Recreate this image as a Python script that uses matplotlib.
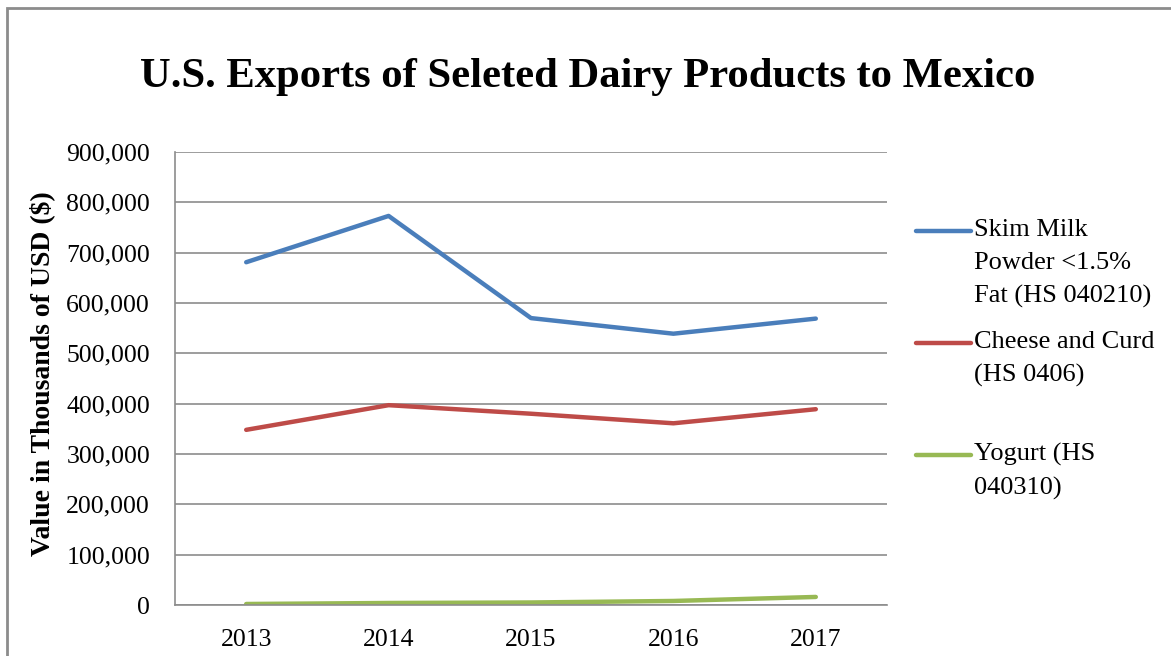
import matplotlib.pyplot as plt
from matplotlib.lines import Line2D
from matplotlib.patches import Rectangle
from matplotlib.ticker import FuncFormatter

plt.rcParams['font.family'] = ['Liberation Serif', 'DejaVu Serif']

years = ['2013', '2014', '2015', '2016', '2017']
skim_milk = [681000, 773000, 570000, 539000, 569000]
cheese = [348000, 397000, 380000, 361000, 389000]
yogurt = [2000, 4000, 5000, 8000, 16000]

labels = ['Skim Milk\nPowder <1.5%\nFat (HS 040210)',
          'Cheese and Curd\n(HS 0406)',
          'Yogurt (HS\n040310)']
colors = ['#4A7EBB', '#BE4B48', '#98B954']
series = [skim_milk, cheese, yogurt]

W, H = 1171, 656
fig = plt.figure(figsize=(W / 100, H / 100), dpi=100)
ax = fig.add_axes([175 / W, 1 - 605 / H, 712 / W, 453 / H])

x = range(len(years))
for vals, c in zip(series, colors):
    ax.plot(x, vals, color=c, lw=3.2, solid_capstyle='round')

ax.set_xlim(-0.5, len(years) - 0.5)
ax.set_ylim(0, 900000)
ax.set_yticks(range(0, 900001, 100000))
ax.yaxis.set_major_formatter(FuncFormatter(lambda v, p: f'{int(v):,}'))
ax.set_xticks(list(x))
ax.set_xticklabels(years)
ax.tick_params(length=0, labelsize=18.5)
ax.tick_params(axis='y', pad=18)
ax.tick_params(axis='x', pad=17)
ax.grid(axis='y', color='#8c8c8c', lw=1.2)
ax.set_axisbelow(True)
for s in ['top', 'right']:
    ax.spines[s].set_visible(False)
for s in ['left', 'bottom']:
    ax.spines[s].set_color('#8c8c8c')
    ax.spines[s].set_linewidth(1.2)

ax.set_ylabel('Value in Thousands of USD ($)', fontsize=20,
              fontweight='bold')
ax.yaxis.set_label_coords(-120 / 712, 0.51)

fig.text(588 / W, 1 - 87 / H, 'U.S. Exports of Seleted Dairy Products to Mexico',
         ha='center', va='baseline', fontsize=30.7, fontweight='bold')

# legend drawn by hand so the swatch sits on the first text line
leg_y = [231, 343, 455]
for lab, c, yy in zip(labels, colors, leg_y):
    fig.add_artist(Line2D([916 / W, 971 / W], [1 - yy / H] * 2, color=c,
                          lw=3.2, solid_capstyle='round',
                          transform=fig.transFigure))
    fig.text(974 / W, 1 - (yy - 12) / H, lab, ha='left', va='top',
             fontsize=19, linespacing=1.62)

# chart frame
fig.add_artist(Rectangle((7 / W, -0.1), 1.2, 1 - 8 / H + 0.1, fill=False,
                         edgecolor='#8c8c8c', lw=2, transform=fig.transFigure))

fig.savefig('out.png', dpi=100)
